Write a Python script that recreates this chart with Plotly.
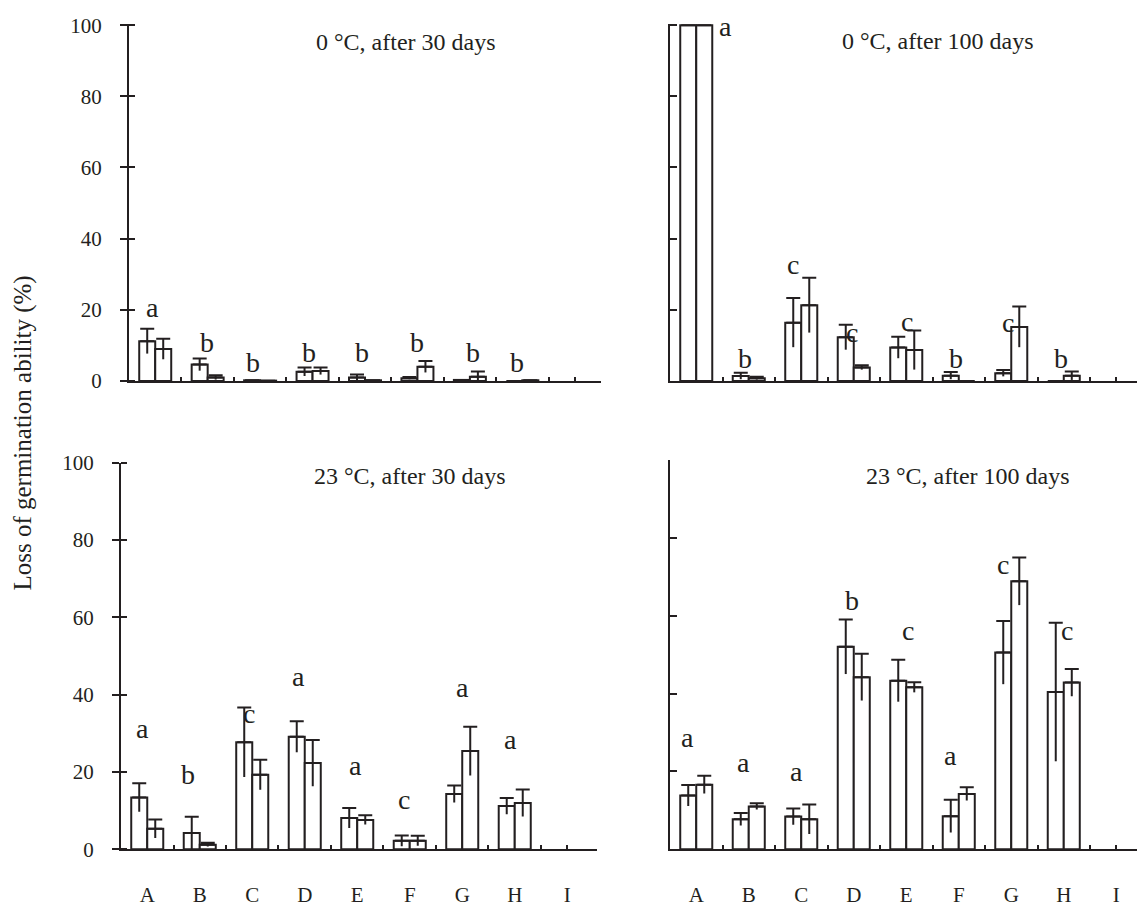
import plotly.graph_objects as go

INK = "#231f20"
FONT = "Liberation Serif"
W, H = 1137, 909

CATEGORIES = ["A", "B", "C", "D", "E", "F", "G", "H", "I"]

# 0 °C, after 30 days
T0_30_S1 = [11.2, 4.6, 0.2, 2.6, 1.0, 0.8, 0.3, 0.0, None]
T0_30_E1 = [3.5, 1.7, 0.0, 1.2, 0.8, 0.3, 0.0, 0.0, None]
T0_30_S2 = [9.0, 1.0, 0.1, 2.8, 0.2, 4.0, 1.2, 0.2, None]
T0_30_E2 = [2.9, 0.6, 0.0, 1.0, 0.0, 1.6, 1.5, 0.0, None]
T0_30_LETTERS = ["a", "b", "b", "b", "b", "b", "b", "b"]

# 0 °C, after 100 days
T0_100_S1 = [100, 1.4, 16.4, 12.3, 9.4, 1.5, 2.2, 0.0, None]
T0_100_E1 = [0, 0.9, 6.9, 3.5, 3.0, 1.0, 0.9, 0.0, None]
T0_100_S2 = [100, 0.8, 21.3, 3.8, 8.7, 0.0, 15.2, 1.5, None]
T0_100_E2 = [0, 0.4, 7.7, 0.6, 5.5, 0.0, 5.7, 1.2, None]
T0_100_LETTERS = ["a", "b", "c", "c", "c", "b", "c", "b"]

# 23 °C, after 30 days
T23_30_S1 = [13.4, 4.2, 27.7, 29.1, 8.1, 2.2, 14.3, 11.2, None]
T23_30_E1 = [3.7, 4.2, 9.0, 4.0, 2.6, 1.4, 2.2, 2.1, None]
T23_30_S2 = [5.3, 1.2, 19.3, 22.3, 7.6, 2.2, 25.4, 12.0, None]
T23_30_E2 = [2.4, 0.5, 3.9, 6.0, 1.2, 1.3, 6.3, 3.5, None]
T23_30_LETTERS = ["a", "b", "c", "a", "a", "c", "a", "a"]

# 23 °C, after 100 days
T23_100_S1 = [13.8, 7.7, 8.4, 52.0, 43.3, 8.5, 50.5, 40.4, None]
T23_100_E1 = [2.7, 1.6, 2.1, 7.0, 5.4, 4.2, 8.1, 17.8, None]
T23_100_S2 = [16.6, 11.0, 7.7, 44.2, 41.6, 14.2, 68.8, 42.8, None]
T23_100_E2 = [2.3, 0.8, 3.8, 6.0, 1.3, 1.7, 6.1, 3.5, None]
T23_100_LETTERS = ["a", "a", "a", "b", "c", "a", "c", "c"]

TITLES = ["0 °C, after 30 days", "0 °C, after 100 days",
          "23 °C, after 30 days", "23 °C, after 100 days"]
Y_TITLE = "Loss of germination ability (%)"
Y_TICKS = [0, 20, 40, 60, 80, 100]

# letter label placement (height in axis units, horizontal nudge in category units)
T0_30_LY = [19.8, 10.7, 5.2, 8.0, 8.0, 10.7, 8.0, 5.2]
T0_30_LDX = [-0.05, -0.01, -0.13, -0.07, -0.06, -0.01, 0.06, -0.1]
T0_100_LY = [98.9, 6.3, 32.0, 12.7, 16.0, 6.3, 15.5, 6.3]
T0_100_LDX = [0.55, -0.07, -0.15, -0.03, 0.02, -0.05, -0.06, -0.05]
T23_30_LY = [30.5, 19.4, 34.3, 43.8, 20.9, 12.1, 41.0, 27.7]
T23_30_LDX = [-0.09, -0.22, -0.07, -0.11, -0.03, -0.11, 0.0, -0.08]
T23_100_LY = [27.9, 21.4, 19.3, 64.0, 55.3, 23.4, 72.4, 55.3]
T23_100_LDX = [-0.17, -0.1, -0.1, -0.03, 0.04, -0.16, -0.15, 0.07]

panels = [
    dict(ax="", s1=T0_30_S1, e1=T0_30_E1, s2=T0_30_S2, e2=T0_30_E2,
         let=T0_30_LETTERS, ly=T0_30_LY, ldx=T0_30_LDX),
    dict(ax="2", s1=T0_100_S1, e1=T0_100_E1, s2=T0_100_S2, e2=T0_100_E2,
         let=T0_100_LETTERS, ly=T0_100_LY, ldx=T0_100_LDX),
    dict(ax="3", s1=T23_30_S1, e1=T23_30_E1, s2=T23_30_S2, e2=T23_30_E2,
         let=T23_30_LETTERS, ly=T23_30_LY, ldx=T23_30_LDX),
    dict(ax="4", s1=T23_100_S1, e1=T23_100_E1, s2=T23_100_S2, e2=T23_100_E2,
         let=T23_100_LETTERS, ly=T23_100_LY, ldx=T23_100_LDX),
]

xs = list(range(len(CATEGORIES)))
fig = go.Figure()

def zeros(v):
    return [None if a is None else 0 for a in v]

for p in panels:
    xa, ya = "x" + p["ax"], "y" + p["ax"]
    for grp, s, e in (("1", p["s1"], p["e1"]), ("2", p["s2"], p["e2"])):
        fig.add_trace(go.Bar(
            x=xs, y=s, xaxis=xa, yaxis=ya, offsetgroup=grp,
            marker=dict(color="white", line=dict(color=INK, width=2)),
            error_y=dict(type="data", symmetric=False, array=e, arrayminus=zeros(e),
                         color=INK, thickness=2, width=7),
            showlegend=False, hoverinfo="skip"))
    for grp, s, e in (("1", p["s1"], p["e1"]), ("2", p["s2"], p["e2"])):
        fig.add_trace(go.Bar(
            x=xs, y=s, xaxis=xa, yaxis=ya, offsetgroup=grp,
            marker=dict(color="rgba(0,0,0,0)", line=dict(width=0)),
            error_y=dict(type="data", symmetric=False, array=zeros(e), arrayminus=e,
                         color=INK, thickness=2, width=0),
            showlegend=False, hoverinfo="skip"))
    for i, (t, yv, dx) in enumerate(zip(p["let"], p["ly"], p["ldx"])):
        fig.add_annotation(x=xs[i] + dx, y=yv, xref=xa, yref=ya, text=t,
                           showarrow=False, xanchor="center", yanchor="middle",
                           yshift=3 if t in ("a", "c") else 0,
                           font=dict(family=FONT, size=28, color=INK))

def px(x):
    return x / W

def py(y):
    return 1 - y / H

minor_vals = [i + 0.5 for i in range(8)] + [8.0001]

def xaxis(domain, rng, labels, anchor):
    return dict(domain=domain, range=rng, anchor=anchor, showline=True, linecolor=INK,
                linewidth=2, showgrid=False, zeroline=False,
                tickmode="array", tickvals=xs, ticktext=CATEGORIES, ticks="",
                showticklabels=labels, ticklabelstandoff=26,
                tickfont=dict(family=FONT, size=21, color=INK),
                minor=dict(tickmode="array", tickvals=minor_vals, ticks="inside",
                           ticklen=4, tickwidth=2, tickcolor=INK))

def yaxis(domain, rng, labels, anchor, left):
    d = dict(domain=domain, range=rng, anchor=anchor, showline=True, linecolor=INK,
             linewidth=2, showgrid=False, zeroline=False,
             tickmode="array", tickvals=Y_TICKS, ticklen=7,
             tickwidth=2, tickcolor=INK, showticklabels=labels,
             ticklabelstandoff=14,
             tickfont=dict(family=FONT, size=21, color=INK))
    if left:
        d["ticks"] = "outside"
        d["minor"] = dict(tickmode="array", tickvals=Y_TICKS, ticks="inside",
                          ticklen=6, tickwidth=2, tickcolor=INK)
    else:
        d["ticks"] = "inside"
    return d

top_dom = [py(379), py(12.4)]
fig.update_layout(
    width=W, height=H, margin=dict(l=0, r=0, t=0, b=0),
    paper_bgcolor="white", plot_bgcolor="white",
    barmode="group", bargap=0.39, bargroupgap=0, showlegend=False,
    font=dict(family=FONT, color=INK),
    xaxis=xaxis([px(129), px(601)], [-0.5, 8.5], False, "y"),
    yaxis=yaxis(top_dom, [0, 100.3], True, "x", True),
    xaxis2=xaxis([px(670), 1.0], [-0.5, 8.395], False, "y2"),
    yaxis2=yaxis(top_dom, [0, 100.3], False, "x2", False),
    xaxis3=xaxis([px(121), px(597)], [-0.5, 8.567], True, "y3"),
    yaxis3=yaxis([py(860), py(463)], [0, 100], True, "x3", True),
    xaxis4=xaxis([px(670), 1.0], [-0.5, 8.395], True, "y4"),
    yaxis4=yaxis([py(860), py(460)], [0, 100], False, "x4", False),
)

for t, (cx, cy) in zip(TITLES, [(406, 31), (938, 30), (410, 477), (968, 477)]):
    fig.add_annotation(x=px(cx), y=py(cy), xref="paper", yref="paper", text=t,
                       showarrow=False, xanchor="center", yanchor="middle",
                       font=dict(family=FONT, size=24, color=INK))

fig.add_annotation(x=px(23), y=py(433), xref="paper", yref="paper", text=Y_TITLE,
                   textangle=-90, showarrow=False, xanchor="center", yanchor="middle",
                   font=dict(family=FONT, size=25, color=INK))

fig.write_html("out.html")
